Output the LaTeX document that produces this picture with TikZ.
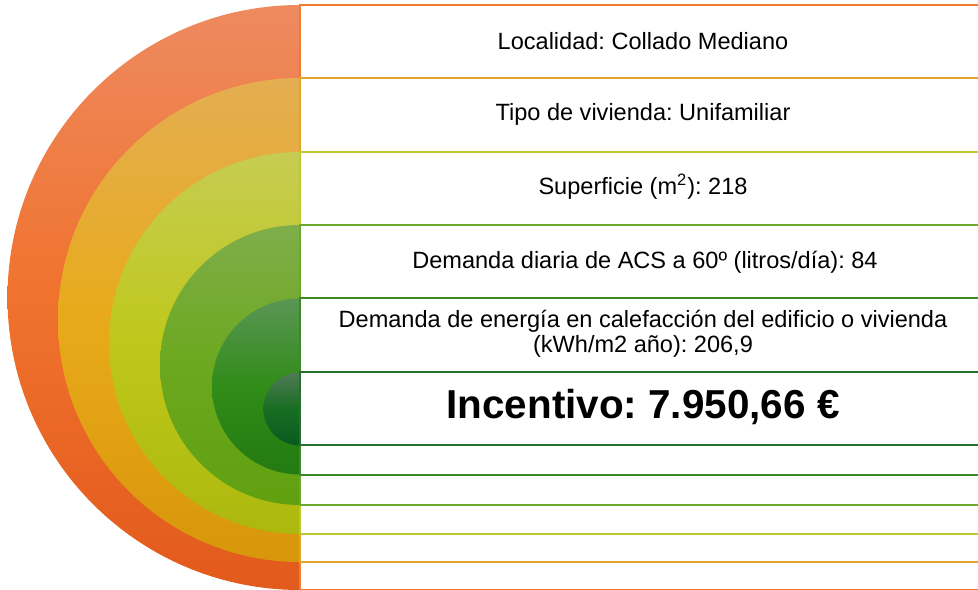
\documentclass[tikz,border=0pt]{standalone}
\usepackage{fontspec}
\setmainfont{Liberation Sans}
\frenchspacing
\definecolor{lineA}{HTML}{ED7D31}
\definecolor{lineB}{HTML}{E1A52A}
\definecolor{lineC}{HTML}{BDC92A}
\definecolor{lineD}{HTML}{6CA82A}
\definecolor{lineE}{HTML}{3A8A28}
\definecolor{lineF}{HTML}{22702E}
\begin{document}
\begin{tikzpicture}[x=0.02cm,y=-0.02cm,
  row/.style={draw=#1,fill=white,line width=1.4pt},
  lbl/.style={font=\fontsize{13.4}{14.5}\selectfont,align=center},
  big/.style={font=\fontsize{23}{26}\selectfont\bfseries}]
  \useasboundingbox (0,0) rectangle (978,590);
  % Draw rings
  \begin{scope}
    \clip (0,0) rectangle (300,590);
    \shade[top color={rgb,255:red,238;green,138;blue,96},
           bottom color={rgb,255:red,226;green,90;blue,28},
           middle color={rgb,255:red,240;green,114;blue,46}] (300,297.5) circle (292.5);
    \shade[top color={rgb,255:red,228;green,174;blue,82},
           bottom color={rgb,255:red,216;green,150;blue,10},
           middle color={rgb,255:red,232;green,170;blue,26}] (300,320) circle (242);
    \shade[top color={rgb,255:red,198;green,204;blue,82},
           bottom color={rgb,255:red,173;green,184;blue,14},
           middle color={rgb,255:red,190;green,200;blue,26}] (300,343) circle (191);
    \shade[top color={rgb,255:red,126;green,174;blue,74},
           bottom color={rgb,255:red,96;green,160;blue,16},
           middle color={rgb,255:red,108;green,168;blue,30}] (300,365) circle (140);
    \shade[top color={rgb,255:red,90;green,149;blue,85},
           bottom color={rgb,255:red,35;green,122;blue,18},
           middle color={rgb,255:red,49;green,140;blue,24}] (300,386.5) circle (88);
    \shade[top color={rgb,255:red,80;green,122;blue,85},
           bottom color={rgb,255:red,10;green,90;blue,32},
           middle color={rgb,255:red,24;green,110;blue,34}] (300,409) circle (36.5);
  \end{scope}
  % Draw rows
  \draw[row=lineA] (300,5)   rectangle (990,590);
  \draw[row=lineB] (300,78)  rectangle (990,562);
  \draw[row=lineC] (300,152) rectangle (990,534);
  \draw[row=lineD] (300,225) rectangle (990,505);
  \draw[row=lineE] (300,298) rectangle (990,475);
  \draw[row=lineF] (300,372) rectangle (990,445);
  % Labels
  \node[lbl] (loc)  at (643,41)  {Localidad: Collado Mediano};
  \node[lbl] (tipo) at (643,114) {Tipo de vivienda: Unifamiliar};
  \node[lbl] (sup)  at (643,187) {Superficie (m\textsuperscript{2}): 218};
  \node[lbl] (acs)  at (645,262) {Demanda diaria de ACS a 60º (litros/día): 84};
  \node[lbl] (cal)  at (643,334) {Demanda de energía en calefacción del edificio o vivienda\\(kWh/m2 año): 206,9};
  \node[big] (inc)  at (643,407) {Incentivo: 7.950,66 €};
\end{tikzpicture}
\end{document}
